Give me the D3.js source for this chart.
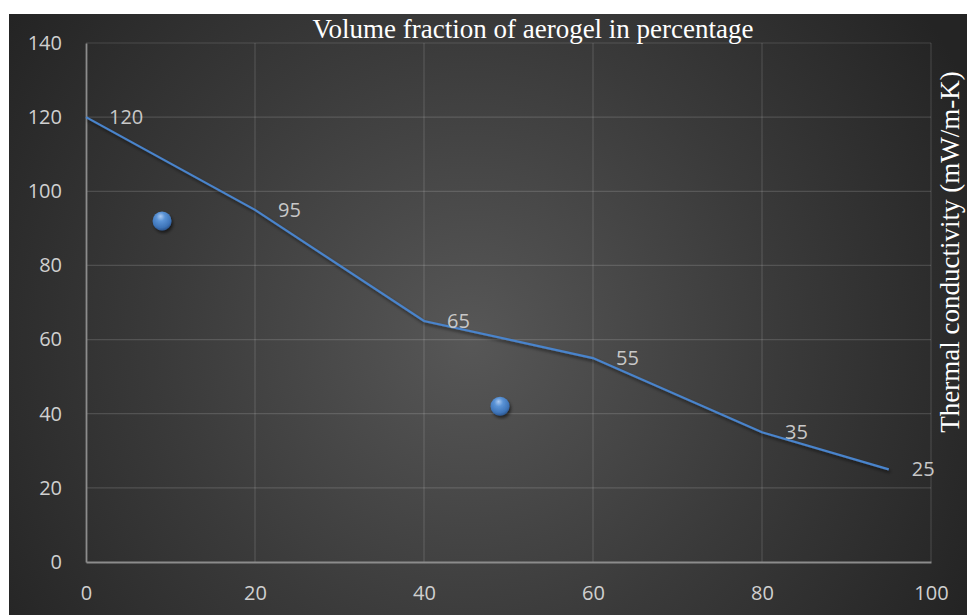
<!DOCTYPE html>
<html>
<head>
<meta charset="utf-8">
<script src="https://cdn.jsdelivr.net/npm/d3@7"></script>
<style>
  html, body { margin: 0; padding: 0; background: #ffffff; }
  svg { display: block; }
</style>
</head>
<body>
<svg id="chart" width="967" height="615"></svg>
<script>
// Thermal conductivity vs. aerogel volume fraction
const volumeFraction = [0, 20, 40, 60, 80, 95];
const conductivity = [120, 95, 65, 55, 35, 25];
const scatterX = [9, 49];
const scatterY = [92, 42];
const xTicks = [0, 20, 40, 60, 80, 100];
const yTicks = [0, 20, 40, 60, 80, 100, 120, 140];
const chartTitle = "Volume fraction of aerogel in percentage";
const yTitle = "Thermal conductivity (mW/m-K)";

const svg = d3.select("#chart");
const W = 967, H = 615;
const margin = { left: 86, right: 36, top: 43, bottom: 53 };

const x = d3.scaleLinear().domain([0, 100]).range([margin.left, W - margin.right]);
const y = d3.scaleLinear().domain([0, 140]).range([H - margin.bottom, margin.top]);

const defs = svg.append("defs");

// Dark radial backdrop
const bg = defs.append("radialGradient").attr("id", "bgGrad")
  .attr("gradientUnits", "userSpaceOnUse")
  .attr("cx", 470).attr("cy", 340).attr("r", 560);
bg.append("stop").attr("offset", "0%").attr("stop-color", "#575757");
bg.append("stop").attr("offset", "55%").attr("stop-color", "#3a3a3a");
bg.append("stop").attr("offset", "100%").attr("stop-color", "#242424");

// Glossy sphere fill for the scatter markers
const ball = defs.append("radialGradient").attr("id", "ballGrad")
  .attr("cx", "45%").attr("cy", "35%").attr("r", "65%").attr("fx", "42%").attr("fy", "25%");
ball.append("stop").attr("offset", "0%").attr("stop-color", "#a9c8f0");
ball.append("stop").attr("offset", "35%").attr("stop-color", "#5a93d6");
ball.append("stop").attr("offset", "80%").attr("stop-color", "#3e74b8");
ball.append("stop").attr("offset", "100%").attr("stop-color", "#2b5690");

const shadow = defs.append("filter").attr("id", "shadow")
  .attr("x", "-20%").attr("y", "-20%").attr("width", "140%").attr("height", "140%");
shadow.append("feDropShadow").attr("dx", 1.5).attr("dy", 2.5).attr("stdDeviation", 1.6)
  .attr("flood-color", "#000").attr("flood-opacity", 0.55);

svg.append("rect").attr("x", 9).attr("y", 14).attr("width", W - 9).attr("height", H - 14)
  .attr("fill", "url(#bgGrad)");

// Gridlines
const grid = svg.append("g");
grid.selectAll(".hg").data(yTicks.filter(d => d > 0)).join("line")
  .attr("x1", x(0)).attr("x2", x(100))
  .attr("y1", d => y(d)).attr("y2", d => y(d))
  .attr("stroke", "#ffffff").attr("stroke-opacity", 0.14).attr("stroke-width", 1.2);
grid.selectAll(".vg").data(xTicks.filter(d => d > 0)).join("line")
  .attr("x1", d => x(d)).attr("x2", d => x(d))
  .attr("y1", y(0)).attr("y2", y(140))
  .attr("stroke", "#ffffff").attr("stroke-opacity", 0.14).attr("stroke-width", 1.2);

// Axes
const tickFont = "'Open Sans', 'Noto Sans', sans-serif";
const xAxis = svg.append("g").attr("transform", `translate(0,${y(0)})`)
  .call(d3.axisBottom(x).tickValues(xTicks).tickSize(0).tickPadding(24));
const yAxis = svg.append("g").attr("transform", `translate(${x(0)},0)`)
  .call(d3.axisLeft(y).tickValues(yTicks).tickSize(0).tickPadding(24));
[xAxis, yAxis].forEach(a => {
  a.select(".domain").attr("stroke", "#8c8c8c").attr("stroke-width", 1.8);
  a.selectAll("text").attr("fill", "#d0d0d0").attr("font-size", 20)
    .attr("font-family", tickFont);
});

// Line series
const pts = volumeFraction.map((v, i) => [v, conductivity[i]]);
svg.append("path").datum(pts)
  .attr("d", d3.line().x(d => x(d[0])).y(d => y(d[1])))
  .attr("fill", "none").attr("stroke", "#4a84cc").attr("stroke-width", 2.2)
  .attr("filter", "url(#shadow)");

// Data labels
svg.append("g").selectAll("text").data(pts).join("text")
  .attr("x", d => x(d[0]) + 23).attr("y", d => y(d[1]))
  .attr("dy", "0.35em")
  .attr("fill", "#c8c8c8").attr("font-size", 20).attr("font-family", tickFont)
  .text(d => d[1]);

// Scatter markers
svg.append("g").selectAll("circle").data(scatterX.map((v, i) => [v, scatterY[i]])).join("circle")
  .attr("cx", d => x(d[0])).attr("cy", d => y(d[1])).attr("r", 9.5)
  .attr("fill", "url(#ballGrad)").attr("filter", "url(#shadow)");

// Titles
const serif = "'Liberation Serif', 'Times New Roman', serif";
svg.append("text").attr("x", 533).attr("y", 38).attr("text-anchor", "middle")
  .attr("fill", "#ffffff").attr("font-size", 27).attr("font-family", serif)
  .text(chartTitle);
svg.append("text")
  .attr("transform", "translate(959,252) rotate(-90)")
  .attr("text-anchor", "middle")
  .attr("fill", "#ffffff").attr("font-size", 27).attr("font-family", serif)
  .text(yTitle);
</script>
</body>
</html>
